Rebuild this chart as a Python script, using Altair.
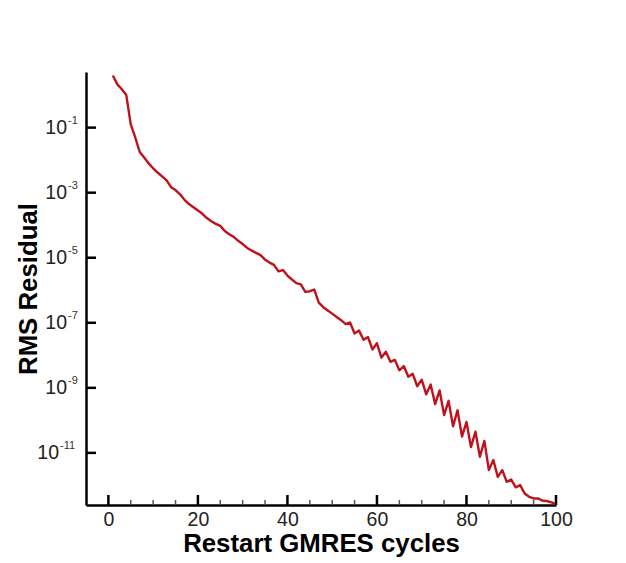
import altair as alt
import pandas as pd

# ---- data ----
cycles = list(range(1, 101))
rms_residual = [
    4.0e0, 2.14e0, 1.51e0, 1.0e0, 1.26e-1, 5.0e-2, 1.78e-2, 1.2e-2, 7.94e-3, 5.62e-3,
    4.17e-3, 3.16e-3, 2.4e-3, 1.48e-3, 1.2e-3, 8.91e-4, 6.03e-4, 4.47e-4, 3.55e-4, 2.82e-4,
    2.24e-4, 1.66e-4, 1.32e-4, 1.1e-4, 9.55e-5, 6.61e-5, 5.25e-5, 4.37e-5, 3.31e-5, 2.63e-5,
    2.0e-5, 1.66e-5, 1.41e-5, 1.2e-5, 8.71e-6, 7.08e-6, 6.03e-6, 3.8e-6, 4.17e-6, 2.82e-6,
    2.14e-6, 1.66e-6, 1.51e-6, 8.91e-7, 9.33e-7, 1.05e-6, 4.17e-7, 3.02e-7, 2.4e-7, 1.91e-7,
    1.51e-7, 1.2e-7, 9.12e-8, 1.02e-7, 4.68e-8, 5.75e-8, 3.02e-8, 3.63e-8, 1.51e-8, 2.34e-8,
    8.51e-9, 1.29e-8, 6.31e-9, 7.24e-9, 3.47e-9, 4.68e-9, 2.19e-9, 2.69e-9, 1.12e-9, 1.78e-9,
    6.31e-10, 1.26e-9, 3.16e-10, 8.32e-10, 1.45e-10, 3.98e-10, 6.61e-11, 2.04e-10, 3.16e-11, 8.91e-11,
    1.51e-11, 4.47e-11, 7.59e-12, 2.34e-11, 2.95e-12, 6.03e-12, 1.82e-12, 2.95e-12, 1.29e-12, 1.51e-12,
    8.71e-13, 1.02e-12, 5.62e-13, 4.47e-13, 3.98e-13, 3.98e-13, 3.39e-13, 3.31e-13, 3.02e-13, 2.63e-13,
]

x_major = [0, 20, 40, 60, 80, 100]
x_minor = [5, 10, 15, 25, 30, 35, 45, 50, 55, 65, 70, 75, 85, 90, 95]
y_tick_values = [1e-1, 1e-3, 1e-5, 1e-7, 1e-9, 1e-11]
y_tick_exponents = ["-1", "-3", "-5", "-7", "-9", "-11"]

W, H = 470, 433
FONT = "Liberation Sans"
LINE_COLOR = "#c0121c"

df = pd.DataFrame({"cycle": cycles, "res": rms_residual})
df_xmaj = pd.DataFrame({"cycle": x_major})
df_xmin = pd.DataFrame({"cycle": x_minor})
df_y = pd.DataFrame({"res": y_tick_values, "exp": y_tick_exponents})

xscale = alt.Scale(domain=[-5, 100], nice=False, zero=False)
yscale = alt.Scale(type="log", domain=[2.5e-13, 5.13], nice=False)

xaxis = alt.Axis(values=x_major, ticks=False, tickSize=0, grid=False,
                 domainColor="black", domainWidth=2.5,
                 labelFont=FONT, labelFontSize=19.5, labelColor="#222",
                 labelPadding=5, labelFlush=False,
                 title="Restart GMRES cycles", titleFont=FONT,
                 titleFontSize=25.8, titleFontWeight="bold", titleColor="black",
                 titleX=235, titleY=46, titleBaseline="alphabetic",
                 titleAlign="center")
yaxis = alt.Axis(labels=False, ticks=False, grid=False,
                 domainColor="black", domainWidth=2.5,
                 title="RMS Residual", titleFont=FONT,
                 titleFontSize=25.8, titleFontWeight="bold", titleColor="black",
                 titleX=-50, titleY=H / 2, titleAngle=-90,
                 titleBaseline="alphabetic", titleAlign="center")

X = alt.X("cycle:Q", scale=xscale, axis=xaxis, title="Restart GMRES cycles")
Y = alt.Y("res:Q", scale=yscale, axis=yaxis, title="RMS Residual")

line = alt.Chart(df).mark_line(color=LINE_COLOR, strokeWidth=2.4,
                               strokeJoin="round").encode(x=X, y=Y)

xmaj_ticks = alt.Chart(df_xmaj).mark_rule(color="black", strokeWidth=2.5).encode(
    x=X, y=alt.value(H), y2=alt.value(H - 10),
)
xmin_ticks = alt.Chart(df_xmin).mark_rule(color="#555", strokeWidth=1.5).encode(
    x=X, y=alt.value(H), y2=alt.value(H - 5),
)
y_ticks = alt.Chart(df_y).mark_rule(color="black", strokeWidth=2.5).encode(
    y=Y, x=alt.value(0), x2=alt.value(10),
)

single = alt.Chart(df_y).transform_filter("length(datum.exp) < 3")
double = alt.Chart(df_y).transform_filter("length(datum.exp) >= 3")

def tens(base, xpos):
    return base.mark_text(align="right", baseline="middle", font=FONT,
                          fontSize=19.5, color="#222").encode(
        y=Y, x=alt.value(xpos), text=alt.value("10"))

def exps(base, xpos):
    return base.mark_text(align="left", baseline="middle", font=FONT,
                          fontSize=11, color="#333", dy=-7).encode(
        y=Y, x=alt.value(xpos), text="exp:N")

chart = alt.layer(
    line, xmaj_ticks, xmin_ticks, y_ticks,
    tens(single, -19), exps(single, -18),
    tens(double, -27), exps(double, -26),
).properties(
    width=W, height=H,
    autosize=alt.AutoSizeParams(type="none"),
    padding={"left": 86, "top": 72, "right": 70, "bottom": 58},
    background="white",
).configure_view(stroke=None)

chart.save("out.html", embed_options={"renderer": "svg", "actions": False})
